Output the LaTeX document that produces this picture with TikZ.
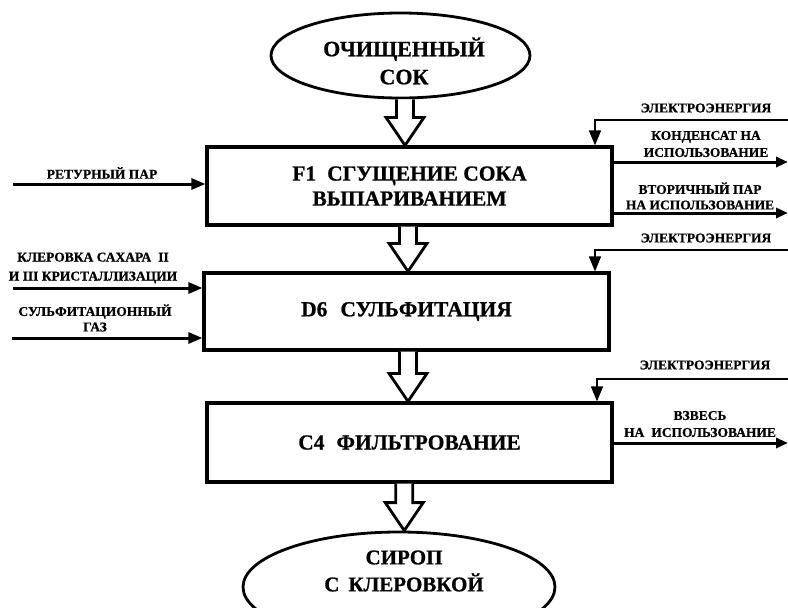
\documentclass[tikz,border=0pt]{standalone}
\usepackage{fontspec}
\setmainfont[BoldFeatures={FakeBold=0.8}]{Liberation Serif}
\usetikzlibrary{arrows.meta,shapes.geometric,calc}
\newcommand\hollowarr[2]{%
  \draw[hollow] let \p1=(#1.south), \p2=(#2.north), \p3=($(#1.south)!0.5!(#2.north)$) in
    (\x3-8.5pt,\y1) -- (\x3-8.5pt,\y2+28pt) -- (\x3-19pt,\y2+28pt) -- (\x3,\y2)
    -- (\x3+19pt,\y2+28pt) -- (\x3+8.5pt,\y2+28pt) -- (\x3+8.5pt,\y1);}
\begin{document}
\begin{tikzpicture}[x=1pt,y=-1pt,
  proc/.style={draw, line width=3.2pt, minimum width=405pt, align=center,
    inner sep=0pt, font=\bfseries\fontsize{21.5}{25}\selectfont},
  term/.style={ellipse, draw, line width=2.8pt, inner sep=0pt},
  ttext/.style={align=center, inner sep=0pt, font=\bfseries\fontsize{22}{28}\selectfont},
  lbl/.style={align=center, inner sep=0pt, font=\bfseries\fontsize{13.5}{17}\selectfont},
  flow/.style={line width=3pt, -{Triangle[length=14pt,width=11pt]}},
  outflow/.style={line width=3pt, -{Triangle[length=12pt,width=10pt]}},
  power/.style={line width=1.6pt, -{Triangle[length=15pt,width=12pt]}},
  hollow/.style={line width=2.8pt, fill=white, line join=miter}
]
\useasboundingbox (0,0) rectangle (788,608);

% terminals
\node[term, minimum width=259pt, minimum height=85pt] (e1) at (400.5,55.5) {};
\node[ttext] (t1) at (404,61) {ОЧИЩЕННЫЙ\\СОК};
\node[term, minimum width=312pt, minimum height=110pt] (e2) at (399,587) {};
\node[ttext, font=\bfseries\fontsize{21}{27}\selectfont] (t2) at (404,571) {СИРОП\\С\hspace{9pt}КЛЕРОВКОЙ};

% process boxes
\node[proc, minimum height=78pt] (b1) at (409.5,186) {F1\hspace{11pt}СГУЩЕНИЕ СОКА\\ВЫПАРИВАНИЕМ};
\node[proc, minimum height=77pt] (b2) at (406.5,311.5) {D6\hspace{13pt}СУЛЬФИТАЦИЯ};
\node[proc, minimum height=79pt] (b3) at (409.5,442.5) {C4\hspace{12pt}ФИЛЬТРОВАНИЕ};

% hollow arrows
\hollowarr{e1}{b1}
\hollowarr{b1}{b2}
\hollowarr{b2}{b3}
\hollowarr{b3}{e2}

% left inputs
\coordinate (i1) at (13,184);
\coordinate (i2) at (13,288);
\coordinate (i3) at (12,338);
\draw[flow] (i1) -- (i1 -| b1.west);
\draw[flow] (i2) -- (i2 -| b2.west);
\draw[flow] (i3) -- (i3 -| b2.west);
\node[lbl] (l1) at (102,173) {РЕТУРНЫЙ ПАР};
\node[lbl, font=\bfseries\fontsize{13.5}{19}\selectfont] (l2) at (93,268) {КЛЕРОВКА САХАРА\hspace{7pt}II\\И III КРИСТАЛЛИЗАЦИИ};
\node[lbl, font=\bfseries\fontsize{13.5}{15.5}\selectfont] (l3) at (95,318) {СУЛЬФИТАЦИОННЫЙ\\ГАЗ};

% right outputs
\coordinate (o1) at (788,162);
\coordinate (o2) at (788,213);
\coordinate (o3) at (788,443);
\draw[outflow] (o1 -| b1.east) -- (o1);
\draw[outflow] (o2 -| b1.east) -- (o2);
\draw[outflow] (o3 -| b3.east) -- (o3);
\node[lbl] (r1) at (706,144) {КОНДЕНСАТ НА\\ИСПОЛЬЗОВАНИЕ};
\node[lbl, font=\bfseries\fontsize{13.5}{15.5}\selectfont] (r2) at (700,196) {ВТОРИЧНЫЙ ПАР\\НА ИСПОЛЬЗОВАНИЕ};
\node[lbl] (r3) at (700,424) {ВЗВЕСЬ\\НА\hspace{7pt}ИСПОЛЬЗОВАНИЕ};

% power supplies
\coordinate (p1) at (788,120);
\coordinate (k1) at (595,120);
\coordinate (p2) at (788,250);
\coordinate (k2) at (595,250);
\coordinate (p3) at (788,379);
\coordinate (k3) at (597,379);
\draw[power] (p1) -- (k1) -- (k1 |- b1.north);
\draw[power] (p2) -- (k2) -- (k2 |- b2.north);
\draw[power] (p3) -- (k3) -- (k3 |- b3.north);
\node[lbl] (q1) at (706,108) {ЭЛЕКТРОЭНЕРГИЯ};
\node[lbl] (q2) at (706,238) {ЭЛЕКТРОЭНЕРГИЯ};
\node[lbl] (q3) at (705,365) {ЭЛЕКТРОЭНЕРГИЯ};
\end{tikzpicture}
\end{document}
